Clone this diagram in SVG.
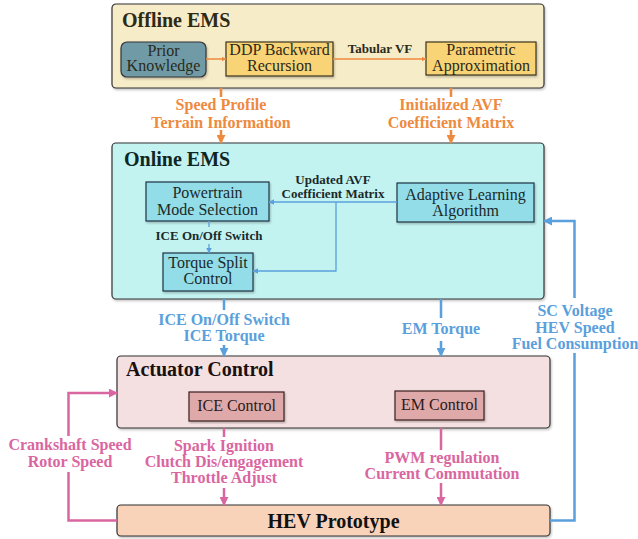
<svg xmlns="http://www.w3.org/2000/svg" width="638" height="539" viewBox="0 0 638 539">
<defs>
<filter id="sh" x="-5%" y="-5%" width="110%" height="115%"><feDropShadow dx="1" dy="1.5" stdDeviation="1" flood-color="#000" flood-opacity="0.25"/></filter>
<marker id="ao" viewBox="0 0 10 10" refX="9" refY="5" markerWidth="5" markerHeight="5" orient="auto" markerUnits="userSpaceOnUse"><path d="M0,0 L10,5 L0,10 z" fill="#ee8a3e"/></marker>
<marker id="aob" viewBox="0 0 10 10" refX="9" refY="5" markerWidth="9" markerHeight="9" orient="auto" markerUnits="userSpaceOnUse"><path d="M0,0 L10,5 L0,10 z" fill="#ee8a3e"/></marker>
<marker id="ab" viewBox="0 0 10 10" refX="9" refY="5" markerWidth="6" markerHeight="6" orient="auto" markerUnits="userSpaceOnUse"><path d="M0,0 L10,5 L0,10 z" fill="#5aa0dc"/></marker>
<marker id="abb" viewBox="0 0 10 10" refX="9" refY="5" markerWidth="9" markerHeight="9" orient="auto" markerUnits="userSpaceOnUse"><path d="M0,0 L10,5 L0,10 z" fill="#5aa0dc"/></marker>
<marker id="ap" viewBox="0 0 10 10" refX="9" refY="5" markerWidth="9" markerHeight="9" orient="auto" markerUnits="userSpaceOnUse"><path d="M0,0 L10,5 L0,10 z" fill="#d966a0"/></marker>
</defs>
<style>
text{font-family:"Liberation Serif","Times New Roman",serif;text-anchor:middle}
.title{font-size:20px;font-weight:bold;text-anchor:start}
.bt{font-size:16px}
.lb{font-size:16px;font-weight:bold}
.sl{font-size:13px;font-weight:bold}
.o{fill:#ee8a3e}.b{fill:#5aa0dc}.p{fill:#d966a0}
.outer{stroke:#333;stroke-width:1.2;filter:url(#sh)}
.inner{stroke-width:1.2;filter:url(#sh)}
.co{fill:none;stroke:#ee8a3e}
.cb{fill:none;stroke:#5aa0dc}
.cp{fill:none;stroke:#d966a0}
</style>

<g id="offline-ems">
<rect class="outer" x="112" y="4" width="432" height="84" rx="4" fill="#f7ecc8"/>
<text class="title" x="122" y="27" fill="#2e2a18">Offline EMS</text>
</g>
<g id="prior-knowledge">
<rect class="inner" x="121" y="42" width="85" height="35" rx="6" fill="#6f9ba6" stroke="#333"/>
<text class="bt" x="163.5" y="55.5" fill="#2a2a1a">Prior</text>
<text class="bt" x="163.5" y="71" fill="#2a2a1a">Knowledge</text>
</g>
<g id="ddp">
<rect class="inner" x="226" y="42" width="107" height="34" fill="#f9d477" stroke="#3a3220"/>
<text class="bt" x="279.5" y="55" fill="#2a2a1a">DDP Backward</text>
<text class="bt" x="279.5" y="71" fill="#2a2a1a">Recursion</text>
</g>
<g id="parametric">
<rect class="inner" x="426" y="42" width="110" height="33" fill="#f9d477" stroke="#3a3220"/>
<text class="bt" x="481" y="55" fill="#2a2a1a">Parametric</text>
<text class="bt" x="481" y="71" fill="#2a2a1a">Approximation</text>
</g>

<g id="online-ems">
<rect class="outer" x="112" y="143" width="432" height="156" rx="4" fill="#c3f3f1"/>
<text class="title" x="124" y="166" fill="#0e2626">Online EMS</text>
</g>
<g id="powertrain">
<rect class="inner" x="146" y="182" width="123" height="39" fill="#92dde7" stroke="#234"/>
<text class="bt" x="207.5" y="198" fill="#1a2a2a">Powertrain</text>
<text class="bt" x="207.5" y="214.5" fill="#1a2a2a">Mode Selection</text>
</g>
<g id="adaptive">
<rect class="inner" x="397" y="183" width="137" height="39" fill="#92dde7" stroke="#234"/>
<text class="bt" x="465.5" y="199.5" fill="#1a2a2a">Adaptive Learning</text>
<text class="bt" x="465.5" y="216" fill="#1a2a2a">Algorithm</text>
</g>
<g id="torque-split">
<rect class="inner" x="163" y="253" width="90" height="38" fill="#92dde7" stroke="#234"/>
<text class="bt" x="208" y="268" fill="#1a2a2a">Torque Split</text>
<text class="bt" x="208" y="284" fill="#1a2a2a">Control</text>
</g>

<g id="actuator-control">
<rect class="outer" x="117" y="356" width="433" height="72" rx="4" fill="#f4e0e0"/>
<text class="title" x="126" y="376" fill="#1a1010">Actuator Control</text>
</g>
<g id="ice-control">
<rect class="inner" x="189" y="392" width="95" height="29" fill="#dfa9a9" stroke="#3a2020"/>
<text class="bt" x="236.5" y="411" fill="#2a1a1a">ICE Control</text>
</g>
<g id="em-control">
<rect class="inner" x="395" y="391" width="89" height="29" fill="#dfa9a9" stroke="#3a2020"/>
<text class="bt" x="439.5" y="410" fill="#2a1a1a">EM Control</text>
</g>

<g id="hev-prototype">
<rect class="outer" x="117" y="505" width="433" height="31" rx="4" fill="#f8d3b9"/>
<text x="333.5" y="528" style="font-size:20px;font-weight:bold" fill="#111">HEV Prototype</text>
</g>

<g id="connectors">
<path class="co" stroke-width="1.5" d="M206,59 H226" marker-end="url(#ao)"/>
<path class="co" stroke-width="1.5" d="M333,59 H426" marker-end="url(#ao)"/>
<path class="co" stroke-width="2.5" d="M221,88 V97 M221,130 V143" marker-end="url(#aob)"/>
<path class="co" stroke-width="2.5" d="M451,88 V97 M451,130 V143" marker-end="url(#aob)"/>

<path class="cb" stroke-width="1.3" d="M397,202 H269" marker-end="url(#ab)"/>
<path class="cb" stroke-width="1.3" d="M336,202 V271 H253" marker-end="url(#ab)"/>
<path class="cb" stroke-width="1.3" d="M209,221 V227 M209,244 V253" marker-end="url(#ab)"/>

<path class="cb" stroke-width="2.5" d="M224,299 V310 M224,345 V356" marker-end="url(#abb)"/>
<path class="cb" stroke-width="2.5" d="M441,299 V318 M441,341 V356" marker-end="url(#abb)"/>
<path class="cb" stroke-width="2.5" d="M550,520.5 H574.5 V353 M574.5,298 V221 H544" marker-end="url(#abb)"/>

<path class="cp" stroke-width="2.5" d="M224,428 V437 M224,488 V505" marker-end="url(#ap)"/>
<path class="cp" stroke-width="2.5" d="M441,428 V450 M441,483 V505" marker-end="url(#ap)"/>
<path class="cp" stroke-width="2.5" d="M117,520.5 H68.5 V472 M68.5,436 V393 H117" marker-end="url(#ap)"/>
</g>

<g id="labels">
<text class="sl" x="380" y="53" fill="#2a2a1a">Tabular VF</text>
<text class="lb o" x="221" y="110">Speed Profile</text>
<text class="lb o" x="221" y="128">Terrain Information</text>
<text class="lb o" x="451" y="110">Initialized AVF</text>
<text class="lb o" x="451" y="128">Coefficient Matrix</text>
<text class="sl" x="333" y="183.5" fill="#1a2a2a">Updated AVF</text>
<text class="sl" x="333" y="197.5" fill="#1a2a2a">Coefficient Matrix</text>
<text class="sl" x="209" y="240" fill="#1a2a2a">ICE On/Off Switch</text>
<text class="lb b" x="224" y="325">ICE On/Off Switch</text>
<text class="lb b" x="224" y="341">ICE Torque</text>
<text class="lb b" x="441" y="334">EM Torque</text>
<text class="lb b" x="575" y="316">SC Voltage</text>
<text class="lb b" x="575" y="333">HEV Speed</text>
<text class="lb b" x="575" y="349">Fuel Consumption</text>
<text class="lb p" x="70" y="450">Crankshaft Speed</text>
<text class="lb p" x="70" y="467">Rotor Speed</text>
<text class="lb p" x="224" y="451">Spark Ignition</text>
<text class="lb p" x="224" y="467">Clutch Dis/engagement</text>
<text class="lb p" x="224" y="483">Throttle Adjust</text>
<text class="lb p" x="442" y="463">PWM regulation</text>
<text class="lb p" x="442" y="479">Current Commutation</text>
</g>
</svg>
